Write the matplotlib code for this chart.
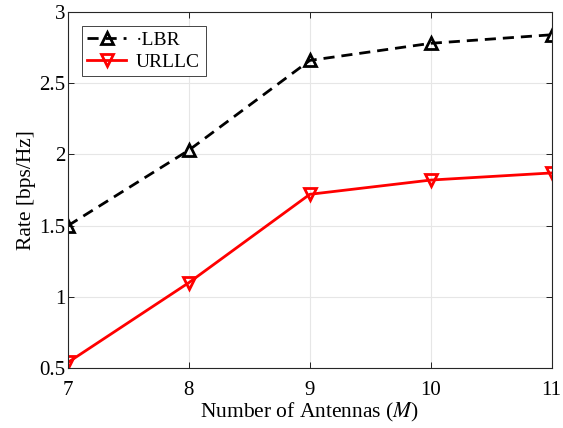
import matplotlib
matplotlib.use('Agg')
import matplotlib.pyplot as plt

plt.rcParams['font.family'] = ['Liberation Serif', 'DejaVu Serif']
plt.rcParams['mathtext.fontset'] = 'stix'

antennas = [7, 8, 9, 10, 11]
lbr = [1.50, 2.03, 2.66, 2.78, 2.84]
urllc = [0.54, 1.10, 1.72, 1.82, 1.87]
xticks = [7, 8, 9, 10, 11]
yticks = [0.5, 1, 1.5, 2, 2.5, 3]
ytick_labels = ['0.5', '1', '1.5', '2', '2.5', '3']

fig = plt.figure(figsize=(5.63, 4.28), dpi=100)
ax = fig.add_axes([0.1208, 0.140, 0.859, 0.832])

ax.plot(antennas, lbr, ls='--', color='black', lw=2, marker='^', ms=8,
        mfc='none', mew=2, label='·LBR', dashes=(4, 2.5))
ax.plot(antennas, urllc, ls='-', color='red', lw=2, marker='v', ms=8,
        mfc='none', mew=2, label='URLLC')

ax.set_xlim(7, 11)
ax.set_ylim(0.5, 3)
ax.set_xticks(xticks)
ax.set_yticks(yticks)
ax.set_yticklabels(ytick_labels)
ax.tick_params(direction='in', labelsize=15, length=4, width=0.6, top=True, right=True)
ax.tick_params(axis='x', pad=9)
ax.tick_params(axis='y', pad=2)
ax.grid(True, color='#e6e6e6', lw=0.8)
for s in ax.spines.values():
    s.set_linewidth(0.8)
    s.set_color('#262626')

ax.set_xlabel('Number of Antennas ($M$)', fontsize=15.5, labelpad=1)
ax.set_ylabel('Rate [bps/Hz]', fontsize=15.5, labelpad=2)

leg = ax.legend(loc='upper left', fontsize=14, fancybox=False, edgecolor='#262626',
                handlelength=2.0, handletextpad=0.5, borderaxespad=0.7, borderpad=0.3,
                labelspacing=0.2, framealpha=1)
leg.get_frame().set_linewidth(0.6)

fig.savefig('out.png', dpi=100)
